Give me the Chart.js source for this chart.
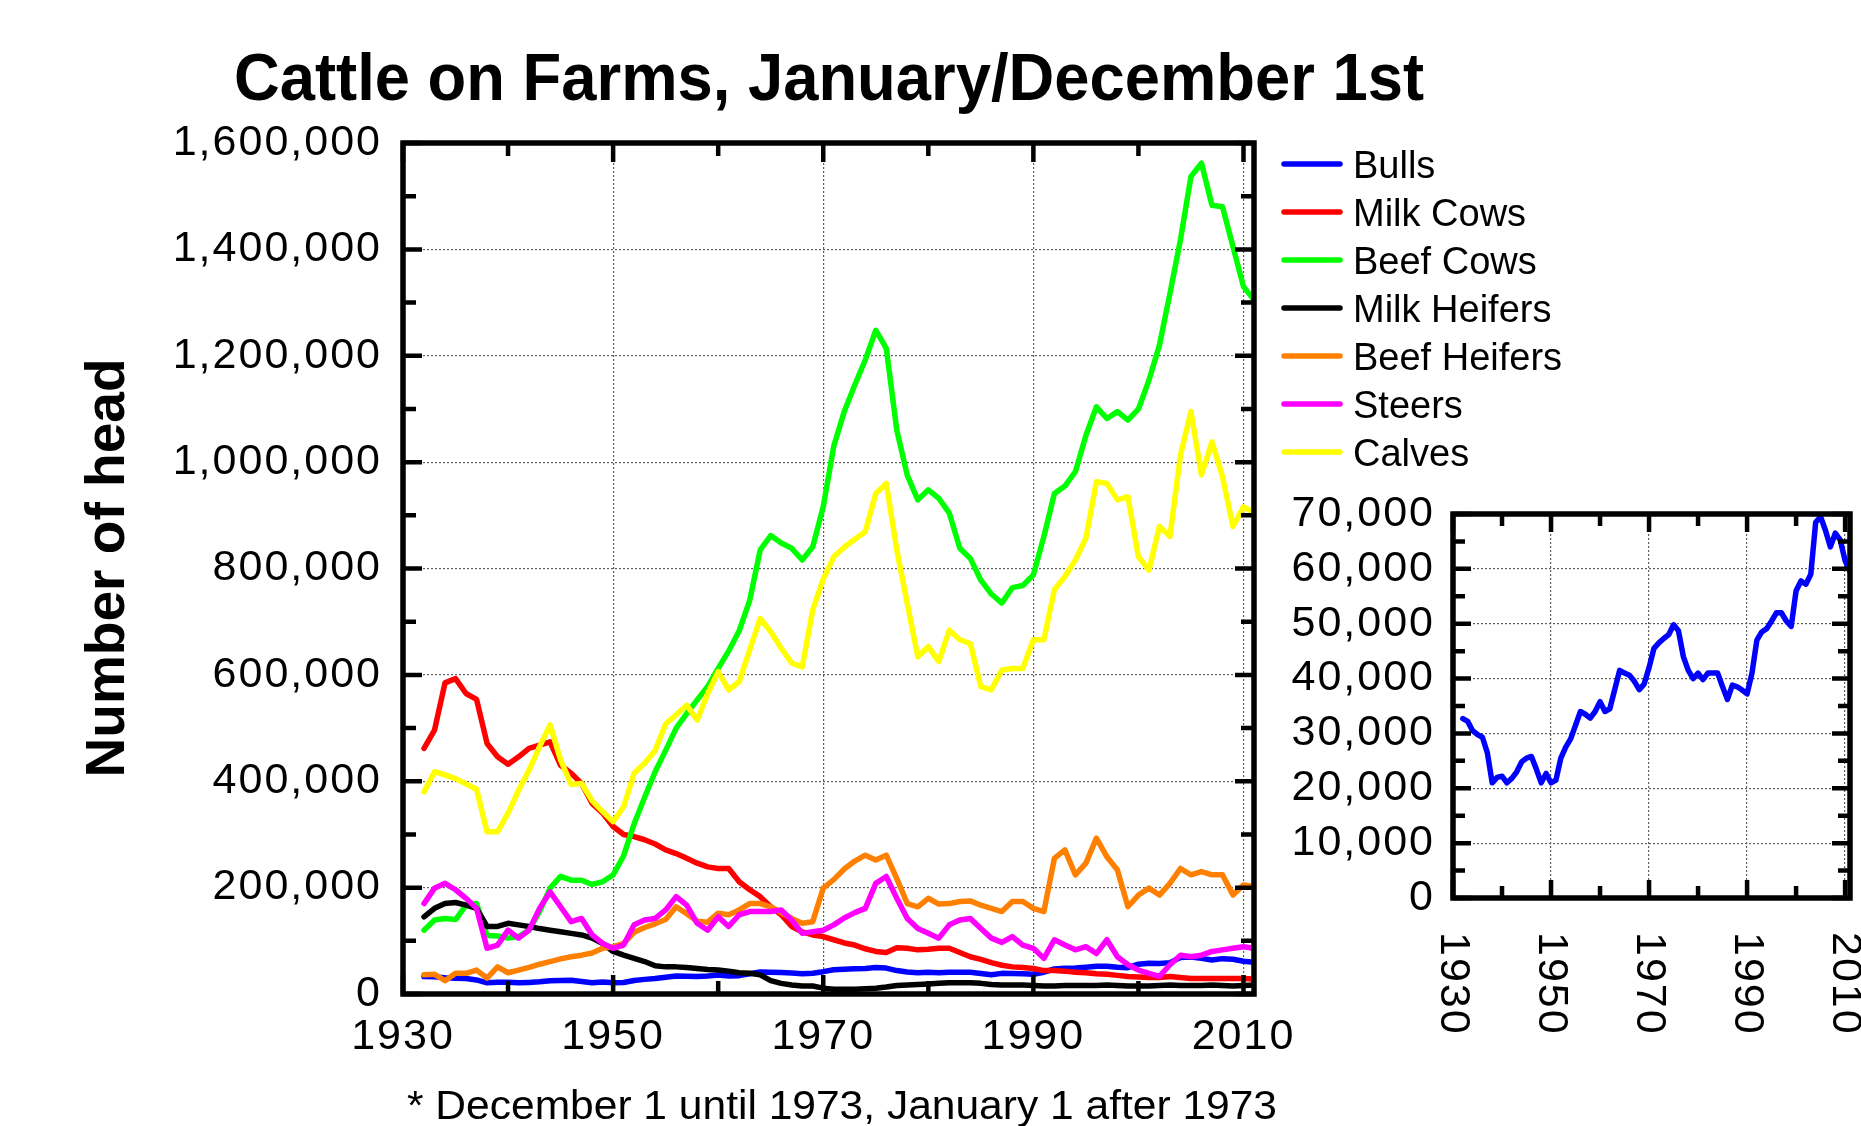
<!DOCTYPE html>
<html>
<head>
<meta charset="utf-8">
<title>Cattle on Farms</title>
<script src="https://cdn.jsdelivr.net/npm/chart.js@4.4.1/dist/chart.umd.min.js"></script>
<style>
  html, body { margin: 0; padding: 0; background: #ffffff; }
  #wrap { position: relative; width: 1861px; height: 1126px; overflow: hidden; background: #ffffff; }
  #main { position: absolute; left: 0; top: 0; }
  #inset { position: absolute; left: 1230px; top: 470px; }
</style>
</head>
<body>
<div id="wrap">
  <canvas id="main" width="1861" height="1126" style="width:1861px;height:1126px"></canvas>
  <canvas id="inset" width="631" height="656" style="width:631px;height:656px"></canvas>
</div>
<script>
// ---- data: head of cattle, one value per year ----
const years = [
  1932, 1933, 1934, 1935, 1936, 1937, 1938, 1939, 1940, 1941,
  1942, 1943, 1944, 1945, 1946, 1947, 1948, 1949, 1950, 1951,
  1952, 1953, 1954, 1955, 1956, 1957, 1958, 1959, 1960, 1961,
  1962, 1963, 1964, 1965, 1966, 1967, 1968, 1969, 1970, 1971,
  1972, 1973, 1974, 1975, 1976, 1977, 1978, 1979, 1980, 1981,
  1982, 1983, 1984, 1985, 1986, 1987, 1988, 1989, 1990, 1991,
  1992, 1993, 1994, 1995, 1996, 1997, 1998, 1999, 2000, 2001,
  2002, 2003, 2004, 2005, 2006, 2007, 2008, 2009, 2010, 2011
];

const bulls = [
  32700, 32200, 30500, 29800, 29300, 26500, 21000, 22000, 22200, 21000,
  21800, 23000, 24800, 25500, 25800, 23500, 21000, 22700, 21000, 21500,
  25500, 27500, 29000, 31500, 34000, 33500, 32800, 34000, 35800, 34000,
  34500, 38000, 41500, 41000, 40600, 39500, 38000, 39000, 42000, 45500,
  46500, 47300, 48000, 49800, 48700, 44000, 41500, 40000, 41000, 39800,
  41000, 41000, 41000, 38500, 36200, 38800, 38500, 37900, 37200, 41000,
  47000, 48500, 49100, 50500, 52000, 52000, 50500, 49500, 56000, 57800,
  57200, 59000, 68500, 69500, 67000, 64000, 66500, 65300, 61500, 59500
];

const milkCows = [
  462000, 496000, 585000, 593000, 565000, 554000, 471000, 446000, 432000, 446000,
  462000, 468000, 474000, 430000, 415000, 396000, 358000, 340000, 315000, 300000,
  296000, 290000, 282000, 271000, 264000, 255000, 246000, 239000, 236000, 236000,
  211000, 196000, 183000, 164000, 149000, 127000, 117000, 111000, 108000, 102000,
  96000, 92000, 85000, 80000, 78000, 87000, 86000, 83000, 84000, 86000,
  86000, 78000, 70000, 65000, 59000, 54000, 51000, 50000, 48000, 44000,
  44000, 43000, 41000, 40000, 38000, 37000, 35000, 33000, 32000, 31000,
  31000, 33000, 31000, 29000, 29000, 29000, 29000, 29000, 29000, 28000
];

const beefCows = [
  120000, 139000, 142000, 140000, 167000, 170000, 110000, 109000, 105000, 108000,
  120000, 155000, 199000, 221000, 214000, 214000, 206000, 211000, 224000, 260000,
  320000, 370000, 418000, 458000, 500000, 527000, 553000, 578000, 612000, 645000,
  683000, 740000, 835000, 862000, 848000, 838000, 816000, 841000, 916000, 1030000,
  1095000, 1145000, 1192000, 1248000, 1214000, 1060000, 975000, 929000, 948000, 932000,
  904000, 838000, 819000, 778000, 752000, 735000, 764000, 768000, 788000, 860000,
  941000, 955000, 982000, 1050000, 1104000, 1082000, 1095000, 1079000, 1100000, 1154000,
  1220000, 1317000, 1418000, 1537000, 1562000, 1483000, 1480000, 1405000, 1330000, 1305000
];

const milkHeifers = [
  145000, 161000, 170000, 172000, 167000, 161000, 127000, 127000, 133000, 130000,
  127000, 123000, 120000, 117000, 114000, 111000, 105000, 95000, 80000, 73000,
  67000, 61000, 53000, 51000, 51000, 50000, 48000, 46000, 45000, 43000,
  40000, 39000, 36000, 25000, 20000, 17000, 15000, 15000, 11000, 9000,
  9000, 9000, 10000, 11000, 13000, 16000, 17000, 18000, 19000, 20000,
  21000, 21000, 21000, 20000, 18000, 17000, 17000, 17000, 16000, 15000,
  15000, 16000, 16000, 16000, 16000, 17000, 16000, 15000, 15000, 15000,
  16000, 17000, 16000, 16000, 16000, 17000, 16000, 15000, 16000, 17000
];

const beefHeifers = [
  36000, 37000, 25000, 39000, 39000, 45000, 30000, 51000, 40000, 45000,
  50000, 56000, 61000, 66000, 70000, 73000, 77000, 86000, 89000, 95000,
  116000, 125000, 132000, 140000, 164000, 151000, 137000, 135000, 152000, 149000,
  158000, 170000, 170000, 164000, 153000, 142000, 133000, 136000, 199000, 215000,
  235000, 250000, 261000, 252000, 261000, 217000, 170000, 164000, 180000, 169000,
  170000, 174000, 175000, 167000, 161000, 155000, 174000, 174000, 161000, 155000,
  255000, 271000, 224000, 246000, 293000, 258000, 233000, 164000, 186000, 199000,
  186000, 208000, 236000, 224000, 230000, 224000, 224000, 186000, 205000, 202000
];

const steers = [
  170000, 199000, 208000, 196000, 180000, 161000, 86000, 92000, 120000, 105000,
  120000, 161000, 192000, 164000, 136000, 142000, 111000, 95000, 86000, 92000,
  130000, 139000, 142000, 158000, 183000, 167000, 133000, 120000, 145000, 127000,
  149000, 155000, 155000, 155000, 158000, 139000, 114000, 117000, 120000, 130000,
  143000, 153000, 161000, 208000, 221000, 180000, 142000, 123000, 114000, 105000,
  130000, 139000, 142000, 123000, 105000, 97000, 108000, 92000, 86000, 67000,
  102000, 92000, 83000, 89000, 76000, 102000, 70000, 55000, 45000, 39000,
  33000, 55000, 73000, 70000, 73000, 80000, 83000, 86000, 89000, 86000
];

const calves = [
  380000, 418000, 412000, 405000, 395000, 385000, 305000, 305000, 340000, 383000,
  421000, 465000, 506000, 440000, 394000, 396000, 363000, 343000, 324000, 352000,
  415000, 434000, 458000, 508000, 525000, 543000, 515000, 565000, 606000, 572000,
  587000, 647000, 706000, 681000, 650000, 622000, 615000, 722000, 780000, 822000,
  840000, 855000, 869000, 941000, 960000, 835000, 734000, 634000, 653000, 625000,
  684000, 666000, 659000, 578000, 572000, 609000, 612000, 612000, 666000, 666000,
  760000, 785000, 816000, 857000, 963000, 960000, 929000, 935000, 822000, 797000,
  879000, 860000, 1013000, 1095000, 976000, 1038000, 973000, 879000, 916000, 905000
];

const seriesNames = ['Bulls', 'Milk Cows', 'Beef Cows', 'Milk Heifers', 'Beef Heifers', 'Steers', 'Calves'];
const seriesValues = [bulls, milkCows, beefCows, milkHeifers, beefHeifers, steers, calves];
const seriesColors = ['#0000ff', '#ff0000', '#00ff00', '#000000', '#ff8000', '#ff00ff', '#ffff00'];

// ---- tick labels ----
const mainXTicks = [1930, 1950, 1970, 1990, 2010];
const mainYTicks = [0, 200000, 400000, 600000, 800000, 1000000, 1200000, 1400000, 1600000];
const insetXTicks = [1930, 1950, 1970, 1990, 2010];
const insetYTicks = [0, 10000, 20000, 30000, 40000, 50000, 60000, 70000];

const titleText = 'Cattle on Farms, January/December 1st';
const yTitleText = 'Number of head';
const footnoteText = '* December 1 until 1973, January 1 after 1973';

// ---- styling ----
const FONT = '"Liberation Sans", Arial, Helvetica, sans-serif';
const TICK_FONT = { family: FONT, size: 43 };
const GRID_COLOR = '#5e5e5e';
const GRID_DASH = [2, 2];
const LINE_WIDTH = 5.5;

const toPoints = vals => years.map((yr, i) => ({ x: yr, y: vals[i] }));
const withCommas = v => Number(v).toLocaleString('en-US');

function drawFitted(ctx, text, x, y, font, width, angle) {
  ctx.save();
  ctx.letterSpacing = '0px';
  ctx.font = font;
  ctx.fillStyle = '#000';
  ctx.textAlign = 'center';
  ctx.textBaseline = 'alphabetic';
  const w = ctx.measureText(text).width;
  ctx.translate(x, y);
  if (angle) ctx.rotate(angle);
  ctx.scale(width / w, 1);
  ctx.fillText(text, 0, 0);
  ctx.restore();
}

// Boxed frame with inward major/minor ticks on all four sides
function frameAndTicks(opts) {
  return {
    id: 'frameAndTicks',
    beforeDraw(chart) { chart.ctx.letterSpacing = '2px'; },
    afterDraw(chart) {
      const ctx = chart.ctx, a = chart.chartArea;
      const xs = chart.scales.x, ys = chart.scales.y;
      ctx.save();
      ctx.letterSpacing = '0px';
      ctx.strokeStyle = '#000';
      ctx.lineCap = 'butt';
      ctx.lineWidth = opts.tickWidth;
      ctx.beginPath();
      let k = 0;
      for (let v = ys.min; v <= ys.max + 1e-6; v += opts.yMinor, k++) {
        const len = k % 2 === 0 ? opts.majorLen : opts.minorLen;
        const p = ys.getPixelForValue(v);
        ctx.moveTo(a.left, p); ctx.lineTo(a.left + len, p);
        ctx.moveTo(a.right, p); ctx.lineTo(a.right - len, p);
      }
      k = 0;
      for (let v = xs.min; v <= xs.max + 1e-6; v += opts.xMinor, k++) {
        const len = k % 2 === 0 ? opts.majorLen : opts.minorLen;
        const p = xs.getPixelForValue(v);
        ctx.moveTo(p, a.bottom); ctx.lineTo(p, a.bottom - len);
        ctx.moveTo(p, a.top); ctx.lineTo(p, a.top + len);
      }
      ctx.stroke();
      ctx.lineWidth = opts.frameWidth;
      ctx.lineJoin = 'miter';
      ctx.strokeRect(a.left, a.top, a.right - a.left, a.bottom - a.top);
      ctx.restore();
      if (opts.extra) opts.extra(chart);
    }
  };
}

function scaleCommon(tickValues, fixSize, padding, callback, showLabels) {
  return {
    afterBuildTicks: s => { s.ticks = tickValues.map(v => ({ value: v })); },
    afterFit: fixSize,
    grid: { color: GRID_COLOR, lineWidth: 1.2, drawTicks: false },
    border: { display: false, dash: GRID_DASH },
    ticks: {
      display: showLabels,
      font: TICK_FONT, color: '#000', padding: padding,
      maxRotation: 0, autoSkip: false, callback: callback
    }
  };
}

// ---- main chart ----
new Chart(document.getElementById('main'), {
  type: 'line',
  data: {
    datasets: seriesNames.map((name, i) => ({
      label: name,
      data: toPoints(seriesValues[i]),
      borderColor: seriesColors[i],
      backgroundColor: seriesColors[i],
      borderWidth: LINE_WIDTH,
      pointRadius: 0,
      tension: 0,
      borderJoinStyle: 'round',
      borderCapStyle: 'round',
      order: seriesNames.length - 1 - i
    }))
  },
  options: {
    responsive: false,
    devicePixelRatio: 1,
    animation: false,
    events: [],
    layout: { padding: { left: 0, top: 143, right: 607, bottom: 0 } },
    plugins: { legend: { display: false }, tooltip: { enabled: false }, title: { display: false } },
    scales: {
      x: Object.assign({ type: 'linear', min: 1930, max: 2011 },
        scaleCommon(mainXTicks, s => { s.height = 132; }, 17, v => String(v), true)),
      y: Object.assign({ type: 'linear', min: 0, max: 1600000 },
        scaleCommon(mainYTicks, s => { s.width = 403; }, 21, withCommas, true))
    }
  },
  plugins: [frameAndTicks({
    tickWidth: 4.5, frameWidth: 5.5, majorLen: 19, minorLen: 13,
    xMinor: 10, yMinor: 100000,
    extra(chart) {
      const ctx = chart.ctx;
      drawFitted(ctx, titleText, 829, 100, `bold 67px ${FONT}`, 1190);
      drawFitted(ctx, yTitleText, 124, 568, `bold 56px ${FONT}`, 419, -Math.PI / 2);
      drawFitted(ctx, footnoteText, 842, 1119, `40px ${FONT}`, 870);
      // legend
      ctx.save();
      ctx.letterSpacing = '0px';
      chart.data.datasets.forEach((ds, i) => {
        const yy = 164 + 48 * i;
        ctx.strokeStyle = ds.borderColor;
        ctx.lineWidth = 5.5;
        ctx.lineCap = 'round';
        ctx.beginPath();
        ctx.moveTo(1284, yy); ctx.lineTo(1340, yy);
        ctx.stroke();
        ctx.fillStyle = '#000';
        ctx.font = `38px ${FONT}`;
        ctx.textAlign = 'left';
        ctx.textBaseline = 'alphabetic';
        ctx.fillText(ds.label, 1353, yy + 13.5);
      });
      ctx.restore();
    }
  })]
});

// ---- inset: bulls on their own scale ----
new Chart(document.getElementById('inset'), {
  type: 'line',
  data: {
    datasets: [{
      label: seriesNames[0],
      data: toPoints(bulls),
      borderColor: seriesColors[0],
      backgroundColor: seriesColors[0],
      borderWidth: LINE_WIDTH,
      pointRadius: 0,
      tension: 0,
      borderJoinStyle: 'round',
      borderCapStyle: 'round'
    }]
  },
  options: {
    responsive: false,
    devicePixelRatio: 1,
    animation: false,
    events: [],
    layout: { padding: { left: 0, top: 44, right: 11, bottom: 0 } },
    plugins: { legend: { display: false }, tooltip: { enabled: false }, title: { display: false } },
    scales: {
      x: Object.assign({ type: 'linear', min: 1930, max: 2011 },
        scaleCommon(insetXTicks, s => { s.height = 228; }, 0, v => String(v), false)),
      y: Object.assign({ type: 'linear', min: 0, max: 70000 },
        scaleCommon(insetYTicks, s => { s.width = 223; }, 18, withCommas, true))
    }
  },
  plugins: [frameAndTicks({
    tickWidth: 4.5, frameWidth: 5.5, majorLen: 18, minorLen: 12,
    xMinor: 10, yMinor: 5000,
    extra(chart) {
      const ctx = chart.ctx, a = chart.chartArea, xs = chart.scales.x;
      // year labels turned a quarter clockwise, hanging below the axis
      xs.ticks.forEach(t => {
        const px = xs.getPixelForValue(t.value);
        ctx.save();
        ctx.letterSpacing = '2px';
        ctx.font = `43px ${FONT}`;
        ctx.fillStyle = '#000';
        ctx.textAlign = 'left';
        ctx.textBaseline = 'middle';
        ctx.translate(px, a.bottom + 34);
        ctx.rotate(Math.PI / 2);
        ctx.fillText(String(t.value), 0, 0);
        ctx.restore();
      });
    }
  })]
});
</script>
</body>
</html>
